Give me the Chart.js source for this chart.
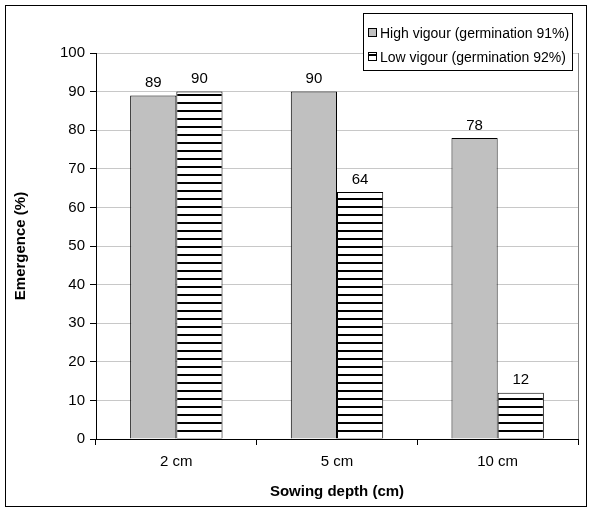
<!DOCTYPE html>
<html>
<head>
<meta charset="utf-8">
<script src="https://cdn.jsdelivr.net/npm/chart.js@4"></script>
<style>
  body { margin: 0; background: #fff; }
  #wrap { position: relative; width: 592px; height: 513px; }
  #frame { position: absolute; left: 5px; top: 5px; width: 582px; height: 502px; border: 1px solid #000; box-sizing: border-box; pointer-events: none; }
</style>
</head>
<body>
<div id="wrap">
  <canvas id="chart" width="592" height="513"></canvas>
  <div id="frame"></div>
</div>
<script>
// Data
const depths = ['2 cm', '5 cm', '10 cm'];
const highVigour = [89, 90, 78];
const lowVigour = [90, 64, 12];
const seriesNames = ['High vigour (germination 91%)', 'Low vigour (germination 92%)'];
const yTicks = [0, 10, 20, 30, 40, 50, 60, 70, 80, 90, 100];

const FONT = '"Liberation Sans", Arial, sans-serif';

// horizontal stripes fill
function makeStripes() {
  const c = document.createElement('canvas');
  c.width = 8; c.height = 8;
  const g = c.getContext('2d');
  g.fillStyle = '#fff';
  g.fillRect(0, 0, 8, 8);
  g.fillStyle = '#000';
  g.fillRect(0, 6, 8, 2);
  return document.getElementById('chart').getContext('2d').createPattern(c, 'repeat');
}
const stripes = makeStripes();

// value labels above bars
const valueLabels = {
  id: 'valueLabels',
  afterDatasetsDraw(chart) {
    const ctx = chart.ctx;
    ctx.save();
    ctx.font = '15px ' + FONT;
    ctx.fillStyle = '#000';
    ctx.textAlign = 'center';
    ctx.textBaseline = 'bottom';
    chart.data.datasets.forEach((ds, i) => {
      chart.getDatasetMeta(i).data.forEach((bar, j) => {
        ctx.fillText(ds.data[j], bar.x, bar.y - 5);
      });
    });
    ctx.restore();
  }
};

// right edge of plot + legend box
const extras = {
  id: 'extras',
  afterDraw(chart) {
    const ctx = chart.ctx;
    const a = chart.chartArea;
    ctx.save();
    ctx.strokeStyle = '#808080';
    ctx.lineWidth = 1;
    ctx.beginPath();
    ctx.moveTo(Math.round(a.right) + 0.5, a.top);
    ctx.lineTo(Math.round(a.right) + 0.5, a.bottom);
    ctx.stroke();

    // legend
    const lx = 363, ly = 13, lw = 209, lh = 57;
    ctx.fillStyle = '#fff';
    ctx.fillRect(lx, ly, lw, lh);
    ctx.strokeStyle = '#000';
    ctx.strokeRect(lx + 0.5, ly + 0.5, lw, lh);
    ctx.font = '14px ' + FONT;
    ctx.textBaseline = 'middle';
    ctx.textAlign = 'left';
    chart.data.datasets.forEach((ds, i) => {
      const y = ly + 20 + i * 24;
      ctx.fillStyle = ds.backgroundColor;
      ctx.fillRect(lx + 5, y - 4, 8, 8);
      ctx.strokeStyle = '#000';
      ctx.strokeRect(lx + 5.5, y - 4.5, 8, 8);
      ctx.fillStyle = '#000';
      ctx.fillText(ds.label, lx + 17, y + 1);
    });
    ctx.restore();
  }
};

new Chart(document.getElementById('chart'), {
  type: 'bar',
  data: {
    labels: depths,
    datasets: [
      { label: seriesNames[0], data: highVigour, backgroundColor: '#c0c0c0', borderColor: '#000', borderWidth: 1 },
      { label: seriesNames[1], data: lowVigour, backgroundColor: stripes, borderColor: '#000', borderWidth: 1 }
    ]
  },
  options: {
    responsive: false,
    animation: false,
    datasets: { bar: { categoryPercentage: 0.575, barPercentage: 1 } },
    layout: { padding: { left: 0, top: 53, right: 14, bottom: 0 } },
    plugins: { legend: { display: false }, tooltip: { enabled: false } },
    scales: {
      x: {
        afterFit(s) { s.height = 74; },
        grid: { drawOnChartArea: false, drawTicks: true, tickLength: 6, tickColor: '#000', offset: true },
        border: { color: '#000' },
        ticks: { color: '#000', padding: 8, font: { family: FONT, size: 15 } },
        title: { display: true, text: 'Sowing depth (cm)', color: '#000', padding: { top: 0, bottom: 12 }, font: { family: FONT, size: 15, weight: 'bold' } }
      },
      y: {
        min: 0, max: 100,
        afterFit(s) { s.width = 96; },
        afterBuildTicks(s) { s.ticks = yTicks.map(v => ({ value: v })); },
        grid: { color: '#c8c8c8', tickColor: '#000', tickLength: 6 },
        border: { color: '#000' },
        ticks: { color: '#000', padding: 5, font: { family: FONT, size: 15 } },
        title: { display: true, text: 'Emergence (%)', color: '#000', padding: { top: 12, bottom: 0 }, font: { family: FONT, size: 15, weight: 'bold' } }
      }
    }
  },
  plugins: [valueLabels, extras]
});
</script>
</body>
</html>
